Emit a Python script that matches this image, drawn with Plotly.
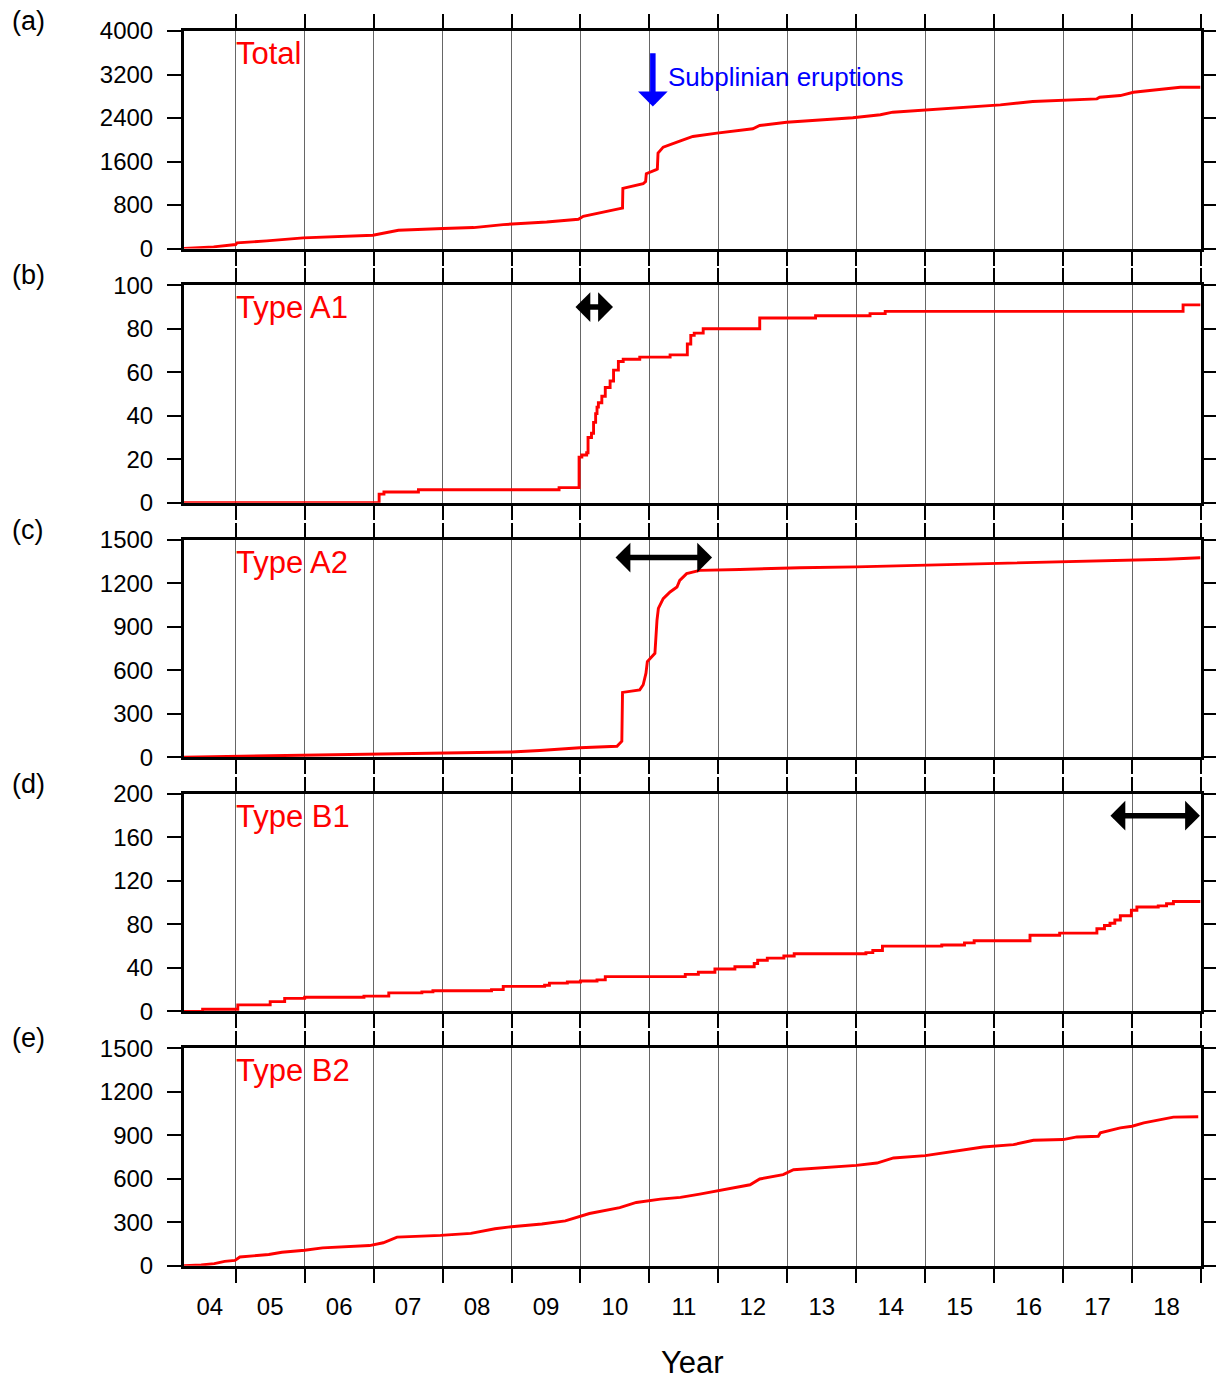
import plotly.graph_objects as go

# ---------------- data (fractional years, cumulative counts) ----------------
years_total = [2004.24, 2004.68, 2005.0, 2005.02, 2005.45, 2005.98, 2006.99, 2007.09, 2007.36,
               2008.01, 2008.45, 2008.88, 2009.51, 2009.97, 2010.04, 2010.57, 2010.61, 2010.615,
               2010.91, 2010.945, 2010.955, 2011.10, 2011.115, 2011.125, 2011.20, 2011.44, 2011.63,
               2011.98, 2012.50, 2012.60, 2012.99, 2013.95, 2014.35, 2014.53, 2014.92, 2015.5,
               2016.09, 2016.56, 2017.0, 2017.49, 2017.53, 2017.83, 2018.02, 2018.51, 2018.70, 2018.99]
count_total = [0, 30, 73, 103, 140, 195, 244, 268, 336,
               367, 385, 440, 488, 538, 593, 734, 745, 1106,
               1193, 1230, 1376, 1450, 1460, 1755, 1864, 1975, 2060,
               2122, 2202, 2262, 2323, 2404, 2459, 2507, 2538, 2590,
               2642, 2703, 2721, 2752, 2782, 2813, 2874, 2936, 2966, 2966]

years_a1 = [2004.25, 2007.08, 2007.15, 2007.65, 2009.69, 2009.98, 2010.02, 2010.09, 2010.11,
            2010.16, 2010.19, 2010.22, 2010.24, 2010.26, 2010.31, 2010.36, 2010.43, 2010.48,
            2010.55, 2010.62, 2010.86, 2011.30, 2011.55, 2011.60, 2011.65, 2011.78, 2012.60,
            2013.41, 2014.20, 2014.42, 2018.74, 2018.99]
count_a1 = [0, 4, 5, 6, 7, 21, 22, 23, 30,
            32, 37, 41, 44, 46, 49, 53, 56, 61,
            65, 66, 67, 68, 73, 77, 78, 80, 85,
            86, 87, 88, 91, 91]

years_a2 = [2004.25, 2005.0, 2006.0, 2007.0, 2008.0, 2009.0, 2009.41, 2009.99, 2010.53, 2010.60,
            2010.61, 2010.86, 2010.91, 2010.95, 2010.97, 2011.08, 2011.11, 2011.13, 2011.20,
            2011.30, 2011.40, 2011.44, 2011.54, 2011.73, 2012.31, 2013.18, 2014.0, 2015.2,
            2016.0, 2017.0, 2017.8, 2018.5, 2018.99]
count_a2 = [0, 5, 10, 17, 25, 35, 46, 64, 75, 110,
            446, 464, 499, 579, 659, 716, 944, 1025, 1093,
            1139, 1173, 1219, 1265, 1288, 1294, 1306, 1312, 1325,
            1335, 1345, 1355, 1365, 1375]

years_b1 = [2004.24, 2004.52, 2005.03, 2005.50, 2005.71, 2006.0, 2006.86, 2007.22, 2007.70,
            2007.86, 2008.71, 2008.88, 2009.48, 2009.55, 2009.81, 2010.0, 2010.24, 2010.36,
            2011.52, 2011.71, 2011.95, 2012.24, 2012.52, 2012.57, 2012.71, 2012.95, 2013.10,
            2014.14, 2014.24, 2014.38, 2015.24, 2015.57, 2015.71, 2016.52, 2016.95, 2017.49,
            2017.60, 2017.68, 2017.75, 2017.83, 2017.99, 2018.07, 2018.38, 2018.50, 2018.60, 2018.99]
count_b1 = [0, 2, 6, 9, 12, 13, 14, 17, 18,
            19, 20, 23, 24, 26, 27, 28, 29, 32,
            34, 36, 39, 41, 44, 47, 49, 51, 53,
            54, 56, 60, 61, 63, 65, 70, 72, 76,
            79, 81, 84, 88, 93, 96, 97, 99, 101, 101]

years_b2 = [2004.25, 2004.50, 2004.69, 2004.84, 2004.99, 2005.06, 2005.48, 2005.67, 2006.0,
            2006.26, 2006.94, 2007.14, 2007.34, 2007.97, 2008.41, 2008.76, 2009.0, 2009.44,
            2009.78, 2010.0, 2010.13, 2010.57, 2010.81, 2011.16, 2011.45, 2011.73, 2012.0,
            2012.46, 2012.60, 2012.94, 2013.09, 2013.67, 2014.0, 2014.30, 2014.54, 2015.0,
            2015.41, 2015.84, 2016.28, 2016.57, 2017.0, 2017.20, 2017.51, 2017.54, 2017.83,
            2018.0, 2018.17, 2018.41, 2018.60, 2018.96]
count_b2 = [0, 5, 14, 30, 37, 60, 77, 93, 107,
            123, 139, 158, 197, 209, 223, 255, 269, 288,
            309, 339, 360, 401, 436, 459, 471, 494, 519,
            558, 598, 628, 662, 681, 692, 708, 743, 759,
            789, 819, 835, 865, 870, 888, 893, 916, 951,
            962, 985, 1009, 1025, 1027]

panel_letters = ["(a)", "(b)", "(c)", "(d)", "(e)"]
panel_names = ["Total", "Type A1", "Type A2", "Type B1", "Type B2"]
y_max = [4000, 100, 1500, 200, 1500]
y_dtick = [800, 20, 300, 40, 300]

year_ticks = list(range(2005, 2020))
label_pos = [2004.625] + [y + 0.5 for y in range(2005, 2019)]
label_text = ["04", "05", "06", "07", "08", "09", "10", "11", "12", "13", "14", "15", "16", "17", "18"]

# activity periods (double arrows): (panel index, start year, end year, level)
periods = [(1, 2009.906, 2010.472, 90), (2, 2010.487, 2011.909, 1376), (3, 2017.665, 2018.985, 180)]
subplinian_year = 2011.05

series = [(years_total, count_total, "linear"), (years_a1, count_a1, "hv"),
          (years_a2, count_a2, "linear"), (years_b1, count_b1, "hv"),
          (years_b2, count_b2, "linear")]

# ---------------- figure ----------------
W, H = 1216, 1379
ml, mr, mt, mb = 184, 15, 31, 113
plot_h = H - mt - mb
plot_w = W - ml - mr
panel_h = 217.5
gap = 254.3
FONT = "Liberation Sans, Arial, sans-serif"
xrange = [2004.25, 2019.0]

fig = go.Figure()
layout = dict(width=W, height=H, margin=dict(l=ml, r=mr, t=mt, b=mb, autoexpand=False),
              paper_bgcolor="white", plot_bgcolor="white", showlegend=False,
              font=dict(family=FONT, color="black", size=24))
annotations = []

for k in range(5):
    n = "" if k == 0 else str(k + 1)
    top = mt + k * gap
    bottom = top + panel_h
    dom = [max(0.0, (H - mb - bottom) / plot_h), min(1.0, (H - mb - top) / plot_h)]
    xs, ys, shape = series[k]
    fig.add_trace(go.Scatter(x=xs, y=ys, mode="lines", line=dict(color="#ff0000", width=2.9, shape=shape),
                             xaxis="x" + n, yaxis="y" + n, hoverinfo="skip"))
    layout["xaxis" + n] = dict(range=xrange, tickvals=year_ticks, ticks="outside", ticklen=14,
                               tickwidth=1.6, tickcolor="black", showticklabels=False,
                               showgrid=True, gridcolor="#666666", gridwidth=1,
                               showline=True, linewidth=3, linecolor="black", mirror="allticks",
                               zeroline=False, anchor="y" + n, domain=[0, 1], fixedrange=True,
                               automargin=False)
    layout["yaxis" + n] = dict(range=[0, y_max[k]], tick0=0, dtick=y_dtick[k], ticks="outside",
                               ticklen=14, tickwidth=1.6, tickcolor="black",
                               showline=True, linewidth=3, linecolor="black", mirror="allticks",
                               showgrid=False, zeroline=False, tickfont=dict(size=24, family=FONT),
                               ticklabelstandoff=9, anchor="x" + n, domain=dom, fixedrange=True,
                               automargin=False)
    # panel letter
    annotations.append(dict(text=panel_letters[k], xref="paper", yref="paper",
                            x=(10 - ml) / plot_w, y=(H - mb - (top - 10)) / plot_h,
                            xanchor="left", yanchor="middle", showarrow=False,
                            font=dict(size=27, family=FONT, color="black")))
    # panel name
    annotations.append(dict(text=panel_names[k], xref="x" + n, yref="y" + n + " domain" if n else "y domain",
                            x=2004.98, y=0.897, xanchor="left", yanchor="middle", showarrow=False,
                            font=dict(size=31, family=FONT, color="#ff0000")))

# x labels on overlay axis of the bottom panel
layout["xaxis6"] = dict(overlaying="x5", anchor="y5", side="bottom", range=xrange,
                        tickvals=label_pos, ticktext=label_text, ticks="outside", ticklen=19,
                        tickcolor="rgba(0,0,0,0)", showgrid=False, showline=False, zeroline=False,
                        tickfont=dict(size=24, family=FONT), fixedrange=True, automargin=False)
fig.add_trace(go.Scatter(x=[], y=[], xaxis="x6", yaxis="y5", hoverinfo="skip"))

# subplinian arrow
annotations.append(dict(x=subplinian_year, y=0.653, xref="x", yref="y domain",
                        ax=subplinian_year, ay=0.905, axref="x", ayref="y domain",
                        text="", showarrow=True, arrowhead=1, arrowsize=0.9, arrowwidth=5.5,
                        arrowcolor="#0000ff", standoff=0, startstandoff=0))
annotations.append(dict(text="Subplinian eruptions", x=subplinian_year + 0.19, y=0.79,
                        xref="x", yref="y domain", xanchor="left", yanchor="middle", showarrow=False,
                        font=dict(size=26, family=FONT, color="#0000ff")))

for (k, x0, x1, lev) in periods:
    n = str(k + 1)
    annotations.append(dict(x=x1, y=lev, xref="x" + n, yref="y" + n, ax=x0, ay=lev,
                            axref="x" + n, ayref="y" + n, text="", showarrow=True,
                            arrowside="end+start", arrowhead=1, startarrowhead=1,
                            arrowsize=0.9, startarrowsize=0.9, arrowwidth=5.5,
                            arrowcolor="black", standoff=0, startstandoff=0))

annotations.append(dict(text="Year", xref="paper", yref="paper", x=(692 - ml) / plot_w,
                        y=(H - mb - 1362) / plot_h, xanchor="center", yanchor="middle",
                        showarrow=False, font=dict(size=31, family=FONT, color="black")))

layout["annotations"] = annotations
fig.update_layout(**layout)
fig.write_html("out.html")
